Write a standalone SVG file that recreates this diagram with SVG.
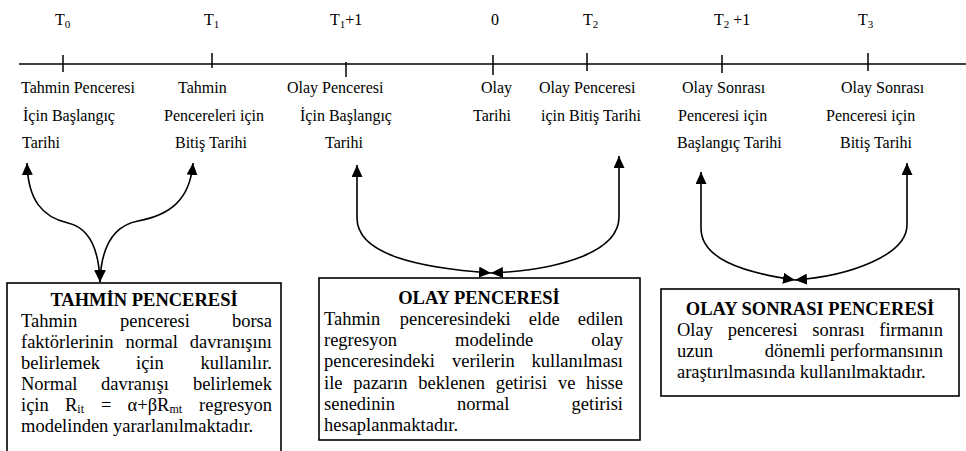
<svg xmlns="http://www.w3.org/2000/svg" width="966" height="451" viewBox="0 0 966 451">
<defs>
<style>
text{font-family:"Liberation Serif","Times New Roman",serif;fill:#000}
.lbl{font-size:16px}
.body{font-size:18.5px}
.ttl{font-size:18.5px;font-weight:bold;text-anchor:middle}
.end{text-anchor:end}
.sub{font-size:11px}
.sb{font-size:12px}
.ln{stroke:#000;stroke-width:1.5;fill:none}
.box{stroke:#000;stroke-width:1.6;fill:#fff}
.conn{stroke:#000;stroke-width:1.6;fill:none;marker-start:url(#ah);marker-end:url(#ah)}
</style>
<marker id="ah" viewBox="0 0 12 11" refX="12" refY="5.5" markerWidth="12" markerHeight="11" markerUnits="userSpaceOnUse" orient="auto-start-reverse">
<path d="M0,0 L12,5.5 L0,11 z" fill="#000"/>
</marker>
</defs>
<rect width="966" height="451" fill="#fff"/>

<g id="timeline">
<line class="ln" x1="19" y1="64" x2="966" y2="64"/>
<line class="ln" x1="63" y1="55" x2="63" y2="72"/>
<line class="ln" x1="212" y1="53" x2="212" y2="68"/>
<line class="ln" x1="346" y1="62" x2="346" y2="77"/>
<line class="ln" x1="493" y1="55" x2="493" y2="75"/>
<line class="ln" x1="587" y1="53" x2="587" y2="71"/>
<line class="ln" x1="722" y1="55" x2="722" y2="73"/>
<line class="ln" x1="868" y1="53" x2="868" y2="71"/>
</g>

<g id="time-labels">
<text class="lbl" x="55" y="25">T<tspan class="sub" dy="3">0</tspan></text>
<text class="lbl" x="204" y="25">T<tspan class="sub" dy="3">1</tspan></text>
<text class="lbl" x="330" y="25">T<tspan class="sub" dy="3">1</tspan><tspan dy="-3">+1</tspan></text>
<text class="lbl" x="491" y="25">0</text>
<text class="lbl" x="583" y="25">T<tspan class="sub" dy="3">2</tspan></text>
<text class="lbl" x="714" y="25">T<tspan class="sub" dy="3">2</tspan><tspan dy="-3"> +1</tspan></text>
<text class="lbl" x="858" y="25">T<tspan class="sub" dy="3">3</tspan></text>
</g>

<g id="date-t0">
<text class="lbl" x="21" y="93">Tahmin Penceresi</text>
<text class="lbl" x="23" y="121">İçin Başlangıç</text>
<text class="lbl" x="22" y="148">Tarihi</text>
</g>
<g id="date-t1">
<text class="lbl" x="178" y="93">Tahmin</text>
<text class="lbl" x="164" y="121">Pencereleri için</text>
<text class="lbl" x="175" y="148">Bitiş Tarihi</text>
</g>
<g id="date-t1p1">
<text class="lbl" x="287" y="93">Olay Penceresi</text>
<text class="lbl" x="300" y="121">İçin Başlangıç</text>
<text class="lbl" x="325" y="148">Tarihi</text>
</g>
<g id="date-0">
<text class="lbl" x="481" y="93">Olay</text>
<text class="lbl" x="473" y="121">Tarihi</text>
</g>
<g id="date-t2">
<text class="lbl" x="539" y="93">Olay Penceresi</text>
<text class="lbl" x="541" y="121">için Bitiş Tarihi</text>
</g>
<g id="date-t2p1">
<text class="lbl" x="682" y="93">Olay Sonrası</text>
<text class="lbl" x="678" y="121">Penceresi için</text>
<text class="lbl" x="677" y="148">Başlangıç Tarihi</text>
</g>
<g id="date-t3">
<text class="lbl" x="841" y="93">Olay Sonrası</text>
<text class="lbl" x="826" y="121">Penceresi için</text>
<text class="lbl" x="840" y="148">Bitiş Tarihi</text>
</g>

<g id="connectors">
<path class="conn" d="M100,282 C99,250 90,228 68,223 C42,217 28,200 27,163"/>
<path class="conn" d="M100,282 C101,250 112,226 138,221 C170,215 190,200 193,163"/>
<path class="conn" d="M491,273 C420,268 357,255 357,218 L357,165"/>
<path class="conn" d="M491,273 C560,270 619,252 619,217 L619,156"/>
<path class="conn" d="M795,280 C740,272 701,258 701,228 L701,172"/>
<path class="conn" d="M795,280 C850,276 907,255 907,225 L907,163"/>
</g>

<g id="box-tahmin">
<rect class="box" x="7" y="283" width="274" height="180"/>
<text class="ttl" x="144" y="306">TAHMİN PENCERESİ</text>
<text class="body" x="21" y="327">Tahmin</text>
<text class="body" x="120" y="327">penceresi</text>
<text class="body end" x="272" y="327">borsa</text>
<text class="body" x="21" y="348">faktörlerinin</text>
<text class="body" x="125.5" y="348">normal</text>
<text class="body end" x="272" y="348">davranışını</text>
<text class="body" x="21" y="369">belirlemek</text>
<text class="body" x="136" y="369">için</text>
<text class="body end" x="272" y="369">kullanılır.</text>
<text class="body" x="21" y="390">Normal</text>
<text class="body" x="101" y="390">davranışı</text>
<text class="body end" x="272" y="390">belirlemek</text>
<text class="body" x="21" y="411">için</text>
<text class="body" x="65" y="411">R<tspan class="sb" dy="2">it</tspan></text>
<text class="body" x="101" y="411">=</text>
<text class="body" x="127.5" y="411">α+βR<tspan class="sb" dy="2">mt</tspan></text>
<text class="body end" x="272" y="411">regresyon</text>
<text class="body" x="21" y="432">modelinden yararlanılmaktadır.</text>
</g>

<g id="box-olay">
<rect class="box" x="319" y="278" width="321" height="162"/>
<text class="ttl" x="479" y="304">OLAY PENCERESİ</text>
<text class="body" x="324" y="325">Tahmin</text>
<text class="body" x="399.7" y="325">penceresindeki</text>
<text class="body" x="528.8" y="325">elde</text>
<text class="body end" x="623" y="325">edilen</text>
<text class="body" x="324" y="346">regresyon</text>
<text class="body" x="455" y="346">modelinde</text>
<text class="body end" x="623" y="346">olay</text>
<text class="body" x="324" y="367">penceresindeki</text>
<text class="body" x="452" y="367">verilerin</text>
<text class="body end" x="623" y="367">kullanılması</text>
<text class="body" x="324" y="389">ile</text>
<text class="body" x="353.2" y="389">pazarın</text>
<text class="body" x="418.3" y="389">beklenen</text>
<text class="body" x="495.8" y="389">getirisi</text>
<text class="body" x="557.9" y="389">ve</text>
<text class="body end" x="623" y="389">hisse</text>
<text class="body" x="324" y="410">senedinin</text>
<text class="body" x="457" y="410">normal</text>
<text class="body end" x="623" y="410">getirisi</text>
<text class="body" x="324" y="431">hesaplanmaktadır.</text>
</g>

<g id="box-olay-sonrasi">
<rect class="box" x="661" y="289" width="298" height="107"/>
<text class="ttl" x="810" y="315">OLAY SONRASI PENCERESİ</text>
<text class="body" x="677" y="336">Olay</text>
<text class="body" x="727.7" y="336">penceresi</text>
<text class="body" x="812.3" y="336">sonrası</text>
<text class="body end" x="943" y="336">firmanın</text>
<text class="body" x="677" y="357">uzun</text>
<text class="body end" x="943" y="357">dönemli performansının</text>
<text class="body" x="677" y="378">araştırılmasında kullanılmaktadır.</text>
</g>
</svg>
